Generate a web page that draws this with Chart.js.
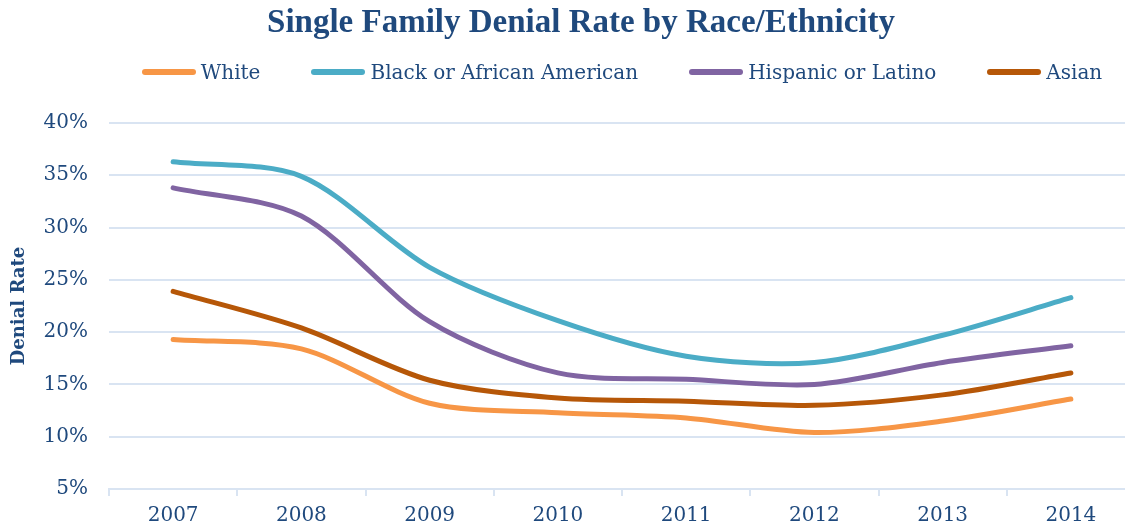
<!DOCTYPE html>
<html><head><meta charset="utf-8">
<script src="https://cdn.jsdelivr.net/npm/chart.js@4"></script>
<style>
html,body{margin:0;padding:0;overflow:hidden;background:#fff;width:1125px;height:527px}
#wrap{position:relative;width:1125px;height:527px;overflow:hidden}
canvas{position:absolute;left:0;top:0}
#title{position:absolute;left:0;width:1162px;top:3px;line-height:40px;text-align:center;font:bold 33px "Liberation Serif",serif;color:#1F497D;white-space:nowrap}
#legend{position:absolute;left:109px;width:1026px;top:60px;display:flex;justify-content:center;gap:51px;font:20px "DejaVu Serif",serif;line-height:24px;color:#1F497D}
.item{display:flex;align-items:center;white-space:nowrap}
.sw{width:54px;height:6px;border-radius:3px;margin-right:5px}
</style></head>
<body>
<div id="wrap">
<canvas id="c" width="1140" height="539"></canvas>
<div id="title">Single Family Denial Rate by Race/Ethnicity</div>
<div id="legend"></div>
</div>
<script>
const years = ['2007','2008','2009','2010','2011','2012','2013','2014'];
const seriesNames = ['White','Black or African American','Hispanic or Latino','Asian'];
const white    = [19.3, 18.4, 13.2, 12.3, 11.8, 10.4, 11.5, 13.6];
const black    = [36.3, 34.9, 26.2, 21.1, 17.7, 17.1, 19.7, 23.3];
const hispanic = [33.8, 31.1, 21.0, 16.1, 15.5, 15.0, 17.1, 18.7];
const asian    = [23.9, 20.4, 15.4, 13.7, 13.4, 13.0, 14.0, 16.1];
const yTicks = [5,10,15,20,25,30,35,40];
const colors = ['#F79646','#4BACC6','#8064A2','#B65708'];
const textColor = '#1F497D';
const gridColor = '#D9E4F2';
const seriesValues = [white, black, hispanic, asian];

const chart = new Chart(document.getElementById('c'), {
  type: 'line',
  data: {
    labels: years,
    datasets: seriesNames.map((n,i)=>({
      label: n, data: seriesValues[i], borderColor: colors[i], backgroundColor: colors[i],
      borderWidth: 5, pointRadius: 0, tension: 0.3, borderCapStyle: 'round', fill: false
    }))
  },
  options: {
    responsive: false, animation: false,
    layout: {padding: {top: 123, left: 9, right: 5, bottom: 3}},
    plugins: {legend: {display: false}, title: {display: false}, tooltip: {enabled: false}},
    scales: {
      x: {
        offset: true,
        grid: {offset: true, drawOnChartArea: false, tickLength: 7, color: gridColor, lineWidth: 2},
        border: {color: gridColor, width: 2},
        ticks: {padding: 8, color: textColor, font: {family: 'DejaVu Serif', size: 20}}
      },
      y: {
        min: 5, max: 40,
        afterBuildTicks: s => { s.ticks = yTicks.map(v=>({value:v})); },
        ticks: {padding: 21, color: textColor, font: {family: 'DejaVu Serif', size: 20}, callback: v => v + '%'},
        grid: {color: gridColor, lineWidth: 2, drawTicks: false},
        border: {display: false},
        title: {display: true, text: 'Denial Rate', color: textColor, padding: 0,
                font: {family: 'DejaVu Serif', size: 18, weight: 'bold'}},
        afterFit: s => { s.width = 100; }
      }
    }
  }
});

const lg = document.getElementById('legend');
chart.data.datasets.forEach(ds => {
  const it = document.createElement('div'); it.className = 'item';
  const sw = document.createElement('span'); sw.className = 'sw'; sw.style.background = ds.borderColor;
  const tx = document.createElement('span'); tx.textContent = ds.label;
  it.appendChild(sw); it.appendChild(tx); lg.appendChild(it);
});
</script>
</body></html>
